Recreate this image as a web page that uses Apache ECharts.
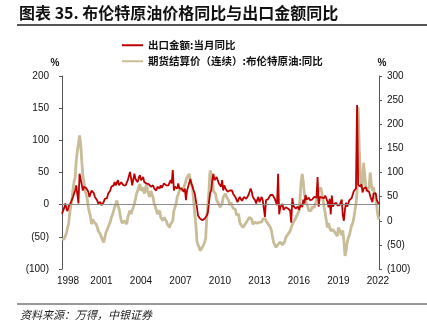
<!DOCTYPE html>
<html><head><meta charset="utf-8">
<script src="https://cdn.jsdelivr.net/npm/echarts@6/dist/echarts.min.js"></script>
<style>html,body{margin:0;padding:0;background:#fff}#c{width:427px;height:326px}</style>
</head><body><div id="c"></div>
<script>
// monthly categories: 1998-09 .. 2022-10
const firstMonth = [1998, 9];
const lastMonth = [2022, 10];
const months = [];
for (let y = firstMonth[0], m = firstMonth[1]; y < lastMonth[0] || (y === lastMonth[0] && m <= lastMonth[1]); ) {
  months.push(y + '-' + (m < 10 ? '0' + m : m));
  m++; if (m > 12) { m = 1; y++; }
}

// 出口金额:当月同比 (%), left axis
const exportYoY = [
  -14, -17, -5, 2,
  -6, -10, -3, 0, 3, 4, 12, 15, 22, 30, 33, 2,
  48, 40, 38, 22, 28, 28, 26, 24, 20, 12, 9, 22,
  25, 18, 12, 10, 7, 2, 5, 4, -1, 1, 4, 9,
  7, 10, 17, 20, 22, 28, 26, 30, 35, 30, 33, 38,
  30, 33, 35, 33, 30, 33, 30, 28, 38, 35, 51, 41,
  30, 33, 48, 40, 38, 35, 42, 46, 38, 40, 43, 35,
  38, 33, 30, 32, 30, 28, 30, 30, 25, 27, 22, 28,
  28, 25, 30, 26, 28, 33, 30, 30, 33, 30, 30, 38,
  33, 54, 22, 28, 30, 25, 33, 25, 22, 25, 28, 20,
  25, 7, 22, 28, 30, 40, 33, 28, 22, 18, 7, -4,
  -17, -20, -22, -22, -24, -22, -22, -20, -17, -12, -9, 18,
  22, 38, 48, 38, 41, 43, 38, 33, 35, 28, 38, 22,
  30, 25, 22, 20, 17, 22, 25, 22, 17, 15, 12, 10,
  4, 7, 12, 15, 6, 4, 12, 12, 9, 7, 15, 18,
  25, 20, 12, 14, 7, 2, 8, 12, 4, 6, 12, 7,
  10, -19, 7, 5, 9, 12, 15, 12, 15, 12, 9, 8,
  -1, 48, -15, -4, -3, 1, -8, -5, -4, -7, -6, -3,
  -9, -28, 10, -2, -4, -6, -4, -3, -8, -6, 1, -4,
  8, 2, 15, 8, 9, 11, 7, 6, 8, 7, 12, 10,
  11, 43, -3, 12, 12, 11, 12, 10, 14, 15, 5, -4,
  9, -15, 14, -3, 1, -1, 3, -1, -3, -1, -1, 8,
  -17, -25, -7, 3, -3, 0, 7, 9, 10, 11, 21, 18,
  25, 155, 31, 32, 28, 32, 19, 25, 28, 27, 22, 21,
  20, 13, 15, 4, 17, 18, 18, 7, 6, 0
];

// 期货结算价(连续):布伦特原油:同比 (%), right axis
const brentYoY = [
  -38, -42, -38, -35,
  -26, -15, -7, 15, 30, 42, 65, 80, 90, 125, 145, 160,
  177, 160, 125, 95, 80, 62, 55, 45, 28, 18, 8, -7,
  3, -2, -3, -7, -12, -21, -24, -28, -35, -40, -45, -35,
  -25, -21, -14, -8, -3, 7, 12, 14, 28, 35, 42, 31,
  25, 21, 0, -5, -7, 0, -3, -7, 7, 15, 21, 14,
  22, 28, 35, 45, 56, 62, 70, 76, 62, 65, 69, 56,
  65, 76, 62, 55, 49, 62, 55, 49, 35, 30, 28, 14,
  18, 21, 7, 3, 0, 7, 3, 0, -7, -10, -14, -7,
  -5, 0, 21, 28, 35, 49, 55, 62, 69, 65, 62, 69,
  75, 83, 90, 94, 97, 83, 75, 69, 42, 15, -7, -42,
  -50, -55, -62, -58, -55, -52, -45, -35, 7, 35, 62, 104,
  98, 90, 62, 58, 56, 42, 38, 35, 28, 30, 35, 49,
  52, 56, 49, 45, 42, 32, 38, 42, 26, 28, 24, 12,
  12, 14, -3, -8, -12, -14, -10, -7, -5, 0, 0, 7,
  5, 3, -7, -5, -3, -3, -5, -7, -3, -3, -3, 3,
  3, 5, 0, -3, -7, -10, -14, -21, -35, -45, -50, -55,
  -52, -49, -45, -44, -42, -50, -48, -43, -35, -32, -28, -24,
  -21, -14, -8, -3, -3, 5, 10, 7, 20, 45, 80, 97,
  80, 56, 45, 35, 30, 21, 18, 21, 28, 31, 28, 35,
  42, 50, 62, 65, 69, 56, 42, 28, 15, 0, -14, -5,
  -14, -21, -25, -18, -21, -25, -28, -32, -14, -10, -25, -30,
  -20, -42, -73, -62, -45, -35, -30, -28, -10, -5, 5, 20,
  35, 60, 235, 150, 97, 70, 80, 120, 95, 70, 60, 56,
  70, 100, 75, 62, 70, 50, 45, 30, 10, 3
];

const leftRange = [-100, 200];
const rightRange = [-100, 300];
const tickStep = 50;

const seriesNames = ['出口金额:当月同比', '期货结算价（连续）:布伦特原油:同比'];
const titleText = '图表 35. 布伦特原油价格同比与出口金额同比';
const sourceText = '资料来源：万得，中银证券';

const RED = '#C00000', TAN = '#C8BD98';
const numFont = '"Liberation Sans", Arial, "Noto Sans CJK SC", sans-serif';
const cjkFont = '"Noto Sans CJK SC", "Liberation Sans", sans-serif';
const paren = v => v < 0 ? '(' + (-v) + ')' : String(v);

const chart = echarts.init(document.getElementById('c'), null, {renderer: 'canvas'});
chart.setOption({
  animation: false,
  backgroundColor: '#fff',
  title: {
    text: titleText, left: 19, top: 5, padding: 0,
    textStyle: {fontSize: 16, fontWeight: 'bold', color: '#111', fontFamily: cjkFont}
  },
  legend: [
    {data: [seriesNames[0]], left: 122, top: 40, padding: 0, itemWidth: 21, itemHeight: 2, icon: 'rect',
     textStyle: {fontSize: 10.5, fontWeight: 'bold', color: '#111', fontFamily: cjkFont}},
    {data: [seriesNames[1]], left: 122, top: 56, padding: 0, itemWidth: 21, itemHeight: 2, icon: 'rect',
     textStyle: {fontSize: 10.5, fontWeight: 'bold', color: '#111', fontFamily: cjkFont}}
  ],
  grid: {left: 62, right: 48, top: 76, bottom: 57, containLabel: false},
  xAxis: {
    type: 'category', data: months, boundaryGap: false,
    axisLine: {show: false}, axisTick: {show: false}, splitLine: {show: false},
    axisLabel: {
      interval: 35, margin: 7, fontSize: 10, color: '#111', fontFamily: numFont,
      formatter: (v, i) => i === 0 ? '{a|' + v.slice(0, 4) + '}' : v.slice(0, 4),
      rich: {a: {padding: [0, 0, 0, 12], fontSize: 10, color: '#111', fontFamily: numFont}}
    }
  },
  yAxis: [
    {type: 'value', min: leftRange[0], max: leftRange[1], interval: tickStep,
     axisLine: {show: true, lineStyle: {color: '#555', width: 1}},
     axisTick: {show: true, length: 3, lineStyle: {color: '#555'}},
     splitLine: {show: false},
     axisLabel: {margin: 13, fontSize: 10, color: '#111', fontFamily: numFont, formatter: paren}},
    {type: 'value', min: rightRange[0], max: rightRange[1], interval: tickStep, position: 'right',
     axisLine: {show: true, lineStyle: {color: '#555', width: 1}},
     axisTick: {show: true, length: 3, lineStyle: {color: '#555'}},
     splitLine: {show: false},
     axisLabel: {margin: 8, fontSize: 10, color: '#111', fontFamily: numFont, formatter: paren}}
  ],
  series: [
    {type: 'line', yAxisIndex: 0, data: [], z: 1, silent: true,
     markLine: {silent: true, symbol: 'none', label: {show: false},
       lineStyle: {color: '#8c8c8c', width: 1, type: 'solid'}, data: [{yAxis: 0}]}},
    {name: seriesNames[1], type: 'line', yAxisIndex: 1, data: brentYoY, symbol: 'none', z: 2,
     color: TAN, lineStyle: {color: TAN, width: 2.8}},
    {name: seriesNames[0], type: 'line', yAxisIndex: 0, data: exportYoY, symbol: 'none', z: 3,
     color: RED, lineStyle: {color: RED, width: 1.8}}
  ],
  graphic: [
    {type: 'line', shape: {x1: 17, y1: 25, x2: 427, y2: 25}, style: {stroke: '#555', lineWidth: 2}},
    {type: 'line', shape: {x1: 17, y1: 304, x2: 427, y2: 304}, style: {stroke: '#333', lineWidth: 1}},
    {type: 'text', x: 55, y: 63, style: {text: '%', font: 'bold 10px ' + numFont, fill: '#111', textAlign: 'center', textVerticalAlign: 'middle'}},
    {type: 'text', x: 382, y: 63, style: {text: '%', font: 'bold 10px ' + numFont, fill: '#111', textAlign: 'center', textVerticalAlign: 'middle'}},
    {type: 'text', x: 20, y: 315, style: {text: sourceText, font: 'italic 11px ' + cjkFont, fill: '#222', textAlign: 'left', textVerticalAlign: 'middle'}}
  ]
});
</script>
</body></html>
